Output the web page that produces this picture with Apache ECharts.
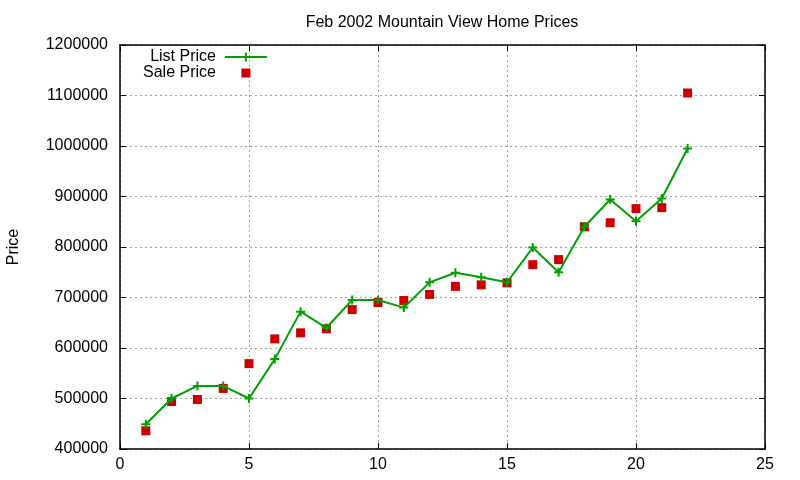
<!DOCTYPE html>
<html>
<head>
<meta charset="utf-8">
<script src="https://cdn.jsdelivr.net/npm/echarts@6/dist/echarts.min.js"></script>
<style>html,body{margin:0;padding:0;background:#fff}#c{width:800px;height:480px}</style>
</head>
<body>
<div id="c"></div>
<script>
const titleText = 'Feb 2002 Mountain View Home Prices';
const yAxisName = 'Price';
const listName = 'List Price';
const saleName = 'Sale Price';
const houseIndex = [1,2,3,4,5,6,7,8,9,10,11,12,13,14,15,16,17,18,19,20,21,22];
const listPrice = [449000,500000,525000,525000,500000,578000,672000,640000,695000,695000,680000,730000,749000,740000,730000,799000,750000,840000,894000,851000,896000,995000];
const salePrice = [436000,494000,498000,520000,569000,618000,630000,638000,676000,690000,694000,706000,722000,725000,729000,765000,775000,840000,848000,876000,878000,1105000];

const font = 'Liberation Sans, Arial, sans-serif';
const txt = '#000';
const gridLine = {show:true, lineStyle:{color:'#a0a0a0', type:[2,3], width:1}};
const axLine = {show:true, onZero:false, lineStyle:{color:'#000', width:1.5}};
const ticks = {show:true, inside:true, length:6, lineStyle:{color:'#000', width:1}};

const chart = echarts.init(document.getElementById('c'));
chart.setOption({
  animation:false,
  backgroundColor:'#fff',
  title:{text:titleText, left:437, textAlign:'center', top:10,
    textStyle:{fontFamily:font, fontSize:16, fontWeight:'normal', color:txt}},
  legend:{
    orient:'vertical', align:'right', left:138, top:44,
    itemWidth:42, itemHeight:9, itemGap:0,
    textStyle:{fontFamily:font, fontSize:16, color:txt, lineHeight:16, padding:[0,4,0,0]},
    data:[{name:listName, icon:'path://M0,4.5H42M21,0V9', itemStyle:{color:'#00a000', borderColor:'#00a000', borderWidth:2}},
          {name:saleName, icon:'path://M0,0H1V1H0Z'}]
  },
  grid:{left:120, right:35, top:45, bottom:31, containLabel:false, outerBoundsMode:'none'},
  xAxis:[
    {type:'value', min:0, max:25, interval:5, position:'bottom',
     axisLine:axLine, axisTick:ticks, splitLine:gridLine,
     axisLabel:{fontFamily:font, fontSize:16, color:txt, margin:8}},
    {type:'value', min:0, max:25, interval:5, position:'top',
     axisLine:axLine, axisTick:ticks, splitLine:{show:false}, axisLabel:{show:false}}
  ],
  yAxis:[
    {type:'value', min:400000, max:1200000, interval:100000, position:'left',
     name:yAxisName, nameLocation:'middle', nameGap:98,
     nameTextStyle:{fontFamily:font, fontSize:16, color:txt},
     axisLine:axLine, axisTick:ticks, splitLine:gridLine,
     axisLabel:{fontFamily:font, fontSize:16, color:txt, margin:12, formatter:v=>String(v)}},
    {type:'value', min:400000, max:1200000, interval:100000, position:'right',
     axisLine:axLine, axisTick:ticks, splitLine:{show:false}, axisLabel:{show:false}}
  ],
  series:[
    {name:listName, type:'line', data:houseIndex.map((x,i)=>[x,listPrice[i]]),
     symbol:'path://M5,0V10M0,5H10', symbolSize:9, showAllSymbol:true,
     lineStyle:{color:'#00a000', width:2},
     itemStyle:{color:'#00a000', borderColor:'#00a000', borderWidth:2},
     emphasis:{disabled:true}, z:3},
    {name:saleName, type:'scatter', data:houseIndex.map((x,i)=>[x,salePrice[i]]),
     symbol:'rect', symbolSize:9,
     itemStyle:{color:'#cc0000', opacity:1}, emphasis:{disabled:true}, z:2}
  ]
});
</script>
</body>
</html>
